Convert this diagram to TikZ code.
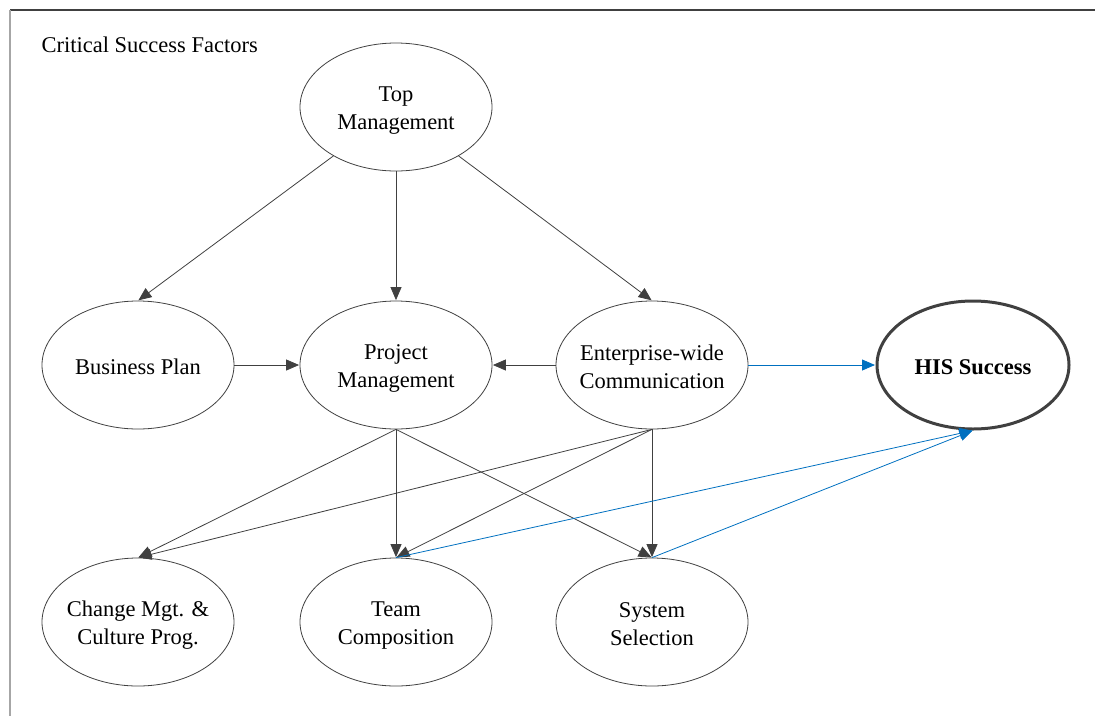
\documentclass[tikz,border=0pt]{standalone}
\usepackage{fontspec}
\setmainfont{Liberation Serif}
\usetikzlibrary{arrows.meta,shapes.geometric}
\definecolor{edgegray}{HTML}{404040}
\definecolor{linkblue}{HTML}{0070C0}
% line strut: keeps every caption line the same size, centred on its letters
\newcommand\cstrut{\rule[-3pt]{0pt}{25pt}}
\begin{document}
\begin{tikzpicture}[x=1pt,y=-1pt,
  caption/.style={align=center,inner sep=0pt,font=\fontsize{22.5}{28}\selectfont},
  % ellipse of fixed size; its text is a centred label so it cannot stretch the shape
  factor/.style={ellipse,draw=edgegray,line width=0.8pt,inner sep=0pt,
    minimum width=192pt,minimum height=128pt,
    label={[caption]center:#1}},
  link/.style={draw=edgegray,line width=0.8pt,
    -{Triangle[length=13pt,width=11pt]},shorten >=0.5pt},
  bluelink/.style={link,draw=linkblue,-{Triangle[length=13pt,width=11pt,fill=linkblue]}},
]
\useasboundingbox (0,0) rectangle (1095,716);
% frame
\draw[edgegray,line width=1.5pt] (10,10) -- (1095,10);
\draw[gray!70,line width=1.8pt] (10,10) -- (10,716);

\node[anchor=west,font=\fontsize{22.5}{26}\selectfont] (title) at (38,45) {Critical Success Factors};

\node[factor={\cstrut Top\\\cstrut Management}] (top) at (396,107) {};
\node[factor={\cstrut Business Plan}] (bp) at (138,365) {};
\node[factor={\cstrut Project\\\cstrut Management}] (pm) at (396,365) {};
\node[factor={\cstrut Enterprise-wide\\\cstrut Communication}] (ewc) at (652,365) {};
\node[ellipse,draw=edgegray,line width=3pt,inner sep=0pt,
  minimum width=192pt,minimum height=128pt,
  label={[caption,font=\fontsize{22.5}{28}\selectfont\bfseries]center:\cstrut HIS Success}] (his) at (973,365) {};
\node[factor={\cstrut Change Mgt. \&\\\cstrut Culture Prog.}] (cm) at (138,622) {};
\node[factor={\cstrut Team\\\cstrut Composition}] (tc) at (396,622) {};
\node[factor={\cstrut System\\\cstrut Selection}] (ss) at (652,622) {};

% top management
\draw[link] (top.218) -- (bp.north);
\draw[link] (top.south) -- (pm.north);
\draw[link] (top.322) -- (ewc.north);
% middle row
\draw[link] (bp.east) -- (pm.west);
\draw[link] (ewc.west) -- (pm.east);
\draw[bluelink] (ewc.east) -- (his.west);
% project management
\draw[link] (pm.south) -- (cm.north);
\draw[link] (pm.south) -- (tc.north);
\draw[link] (pm.south) -- (ss.north);
% enterprise-wide communication
\draw[link] (ewc.south) -- (cm.north);
\draw[link] (ewc.south) -- (tc.north);
\draw[link] (ewc.south) -- (ss.north);
% to success
\draw[bluelink] (tc.north) -- (his.south);
\draw[bluelink] (ss.north) -- (his.south);
\end{tikzpicture}
\end{document}
